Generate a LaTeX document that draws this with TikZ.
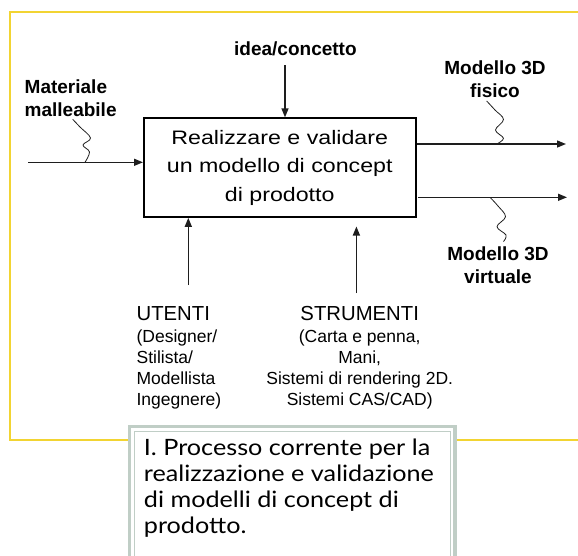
\documentclass[tikz,border=0pt]{standalone}
\usepackage{fontspec}
\setmainfont{Liberation Sans}
\newfontfamily\wideface[FakeStretch=1.19]{Liberation Sans}
\newfontfamily\captionface[FakeStretch=1.12]{Lato}
\usetikzlibrary{arrows.meta}

\definecolor{framegold}{RGB}{242,212,50}
\definecolor{capgrey}{RGB}{192,206,198}
\definecolor{inkline}{RGB}{30,30,30}

\tikzset{
  procbox/.style={draw=black, line width=2pt, minimum width=271.5pt, minimum height=98.5pt,
    inner sep=0pt, align=center, font=\wideface\fontsize{19.5}{28.5}\selectfont},
  flow/.style={draw=inkline, line width=1.4pt, -{Triangle[length=9pt,width=7pt]}},
  squig/.style={draw=inkline, line width=0.8pt},
  tag/.style={inner sep=0pt, font=\bfseries\fontsize{19}{23}\selectfont},
  head/.style={inner sep=0pt, font=\fontsize{20.3}{24}\selectfont},
  detail/.style={inner sep=0pt, font=\fontsize{17.5}{20.9}\selectfont},
  goldline/.style={draw=framegold, line width=2pt},
}

\begin{document}
\begin{tikzpicture}[x=1pt,y=-1pt]
\useasboundingbox (0,0) rectangle (578,555);
\clip (0,0) rectangle (578,555);

% outer frame
\draw[goldline] (578,12) -- (10,12) -- (10,439.5) -- (128,439.5);
\draw[goldline] (456,439.5) -- (578,439.5);

% process box
\node[procbox] (proc) at (279.75,167.6)
  {Realizzare e validare\\un modello di concept\\di prodotto};

% input
\coordinate (inS) at (28,162.3);
\draw[flow] (inS) -- (inS -| proc.west);
\node[tag, anchor=west, align=left] (mat) at (24.5,98.4) {Materiale\\malleabile};
\draw[squig] plot[smooth, tension=0.6] coordinates
  {(72.7,119.3) (80,127) (90.5,138) (83,145) (89.5,152) (85,162.3)};

% control
\node[tag] (idea) at (295.4,48.5) {idea/concetto};
\coordinate (ideaS) at (285,65);
\draw[flow] (ideaS) -- (ideaS |- proc.north);

% outputs
\coordinate (outA) at (566,144);
\coordinate (outB) at (567,197.3);
\draw[flow] (outA -| proc.east) -- (outA);
\draw[flow] ([xshift=1.5pt]outB -| proc.east) -- (outB);
\node[tag, align=center] (fis) at (495,79) {Modello 3D\\fisico};
\node[tag, align=center] (virt) at (498,265) {Modello 3D\\virtuale};
\draw[squig] plot[smooth, tension=0.6] coordinates
  {(486.7,101) (495,110) (503.5,119.5) (495.5,130) (503.5,138.3) (496.7,144)};
\draw[squig] plot[smooth, tension=0.6] coordinates
  {(490,197.3) (498,206) (505.5,216.7) (497,226.7) (506,235) (503.5,241.5)};

% mechanisms
\coordinate (utS) at (188.3,285);
\draw[flow] (utS) -- (utS |- proc.south);
\coordinate (stS) at (356.4,293);
\coordinate (stE) at (356.4,226.5);
\draw[flow] (stS) -- (stE);

\node[head, anchor=west] (ut) at (136.4,313.7) {UTENTI};
\node[detail, anchor=west, align=left] (utd) at (136.4,369.7)
  {(Designer/\\Stilista/\\Modellista\\Ingegnere)};
\node[head] (st) at (359.7,313.7) {STRUMENTI};
\node[detail, align=center] (std) at (359.7,369.7)
  {(Carta e penna,\\Mani,\\Sistemi di rendering 2D.\\Sistemi CAS/CAD)};

% caption panel
\draw[draw=capgrey, line width=3.5pt, fill=white] (129.5,426.5) rectangle (455,570);
\draw[draw=capgrey, line width=1pt] (134,431) rectangle (450.5,570);
\node[inner sep=0pt, anchor=west, align=left,
      font=\captionface\fontsize{22.5}{26}\selectfont] (cap) at (143.7,488)
  {I. Processo corrente per la\\realizzazione e validazione\\di modelli di concept di\\prodotto.};
\end{tikzpicture}
\end{document}
